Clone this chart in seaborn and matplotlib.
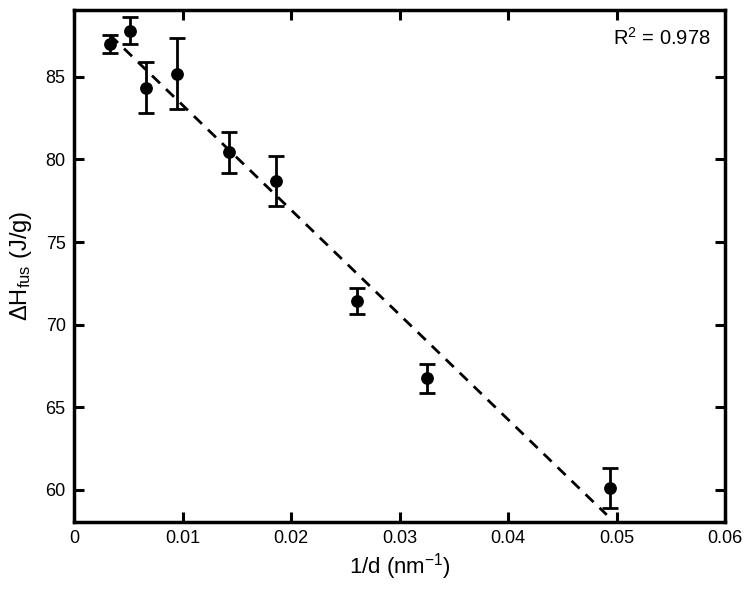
import numpy as np
import matplotlib
matplotlib.use("Agg")
import matplotlib.pyplot as plt
import seaborn as sns

# valores
inv_d = [0.00332, 0.00516, 0.0066, 0.00946, 0.0143, 0.0186, 0.0261, 0.0325, 0.0494]
dh_fus = [87.0, 87.8, 84.35, 85.2, 80.44, 78.7, 71.44, 66.74, 60.1]
erro = [0.55, 0.8, 1.55, 2.15, 1.25, 1.5, 0.8, 0.9, 1.2]
r2_texto = "R$^2$ = 0.978"

sns.set_theme(style="ticks")
plt.rcParams['font.family'] = ['Liberation Sans', 'DejaVu Sans']
plt.rcParams['mathtext.default'] = 'regular'
plt.rcParams['text.color'] = 'black'
plt.rcParams['axes.labelcolor'] = 'black'

fig = plt.figure(figsize=(7.5, 5.89), dpi=100)
ax = fig.add_axes([0.0987, 0.1138, 0.868, 0.8692])

# ajuste linear (linha tracejada)
coef = np.polyfit(inv_d, dh_fus, 1)
x_fit = np.array([inv_d[0], inv_d[-1] - 0.0003])
ax.plot(x_fit, np.polyval(coef, x_fit), color='black', linestyle=(0, (4, 3)), linewidth=2.0, zorder=2)

ax.errorbar(inv_d, dh_fus, yerr=erro, fmt='none', ecolor='black', elinewidth=2.0,
            capsize=5.5, capthick=2.0, zorder=3)
sns.scatterplot(x=inv_d, y=dh_fus, color='black', s=85, edgecolor='black', linewidth=0, ax=ax, zorder=4)

ax.set_xlim(0, 0.06)
ax.set_ylim(58.05, 89.05)
ax.set_xticks([0, 0.01, 0.02, 0.03, 0.04, 0.05, 0.06])
ax.set_xticklabels(['0', '0.01', '0.02', '0.03', '0.04', '0.05', '0.06'])
ax.set_yticks([60, 65, 70, 75, 80, 85])

ax.tick_params(direction='in', length=7, width=2.2, labelsize=13, top=True, right=True,
               labeltop=False, labelright=False, colors='black', pad=6)
for sp in ax.spines.values():
    sp.set_linewidth(2.5)
    sp.set_color('black')

ax.set_xlabel('1/d (nm$^{-1}$)', fontsize=16, labelpad=3)
ax.set_ylabel(r'$\Delta$H$_{fus}$ (J/g)', fontsize=17, labelpad=8)

ax.text(0.978, 0.945, r2_texto, transform=ax.transAxes, ha='right', va='center', fontsize=14.5)

plt.savefig('out.png', dpi=100)
plt.close()
